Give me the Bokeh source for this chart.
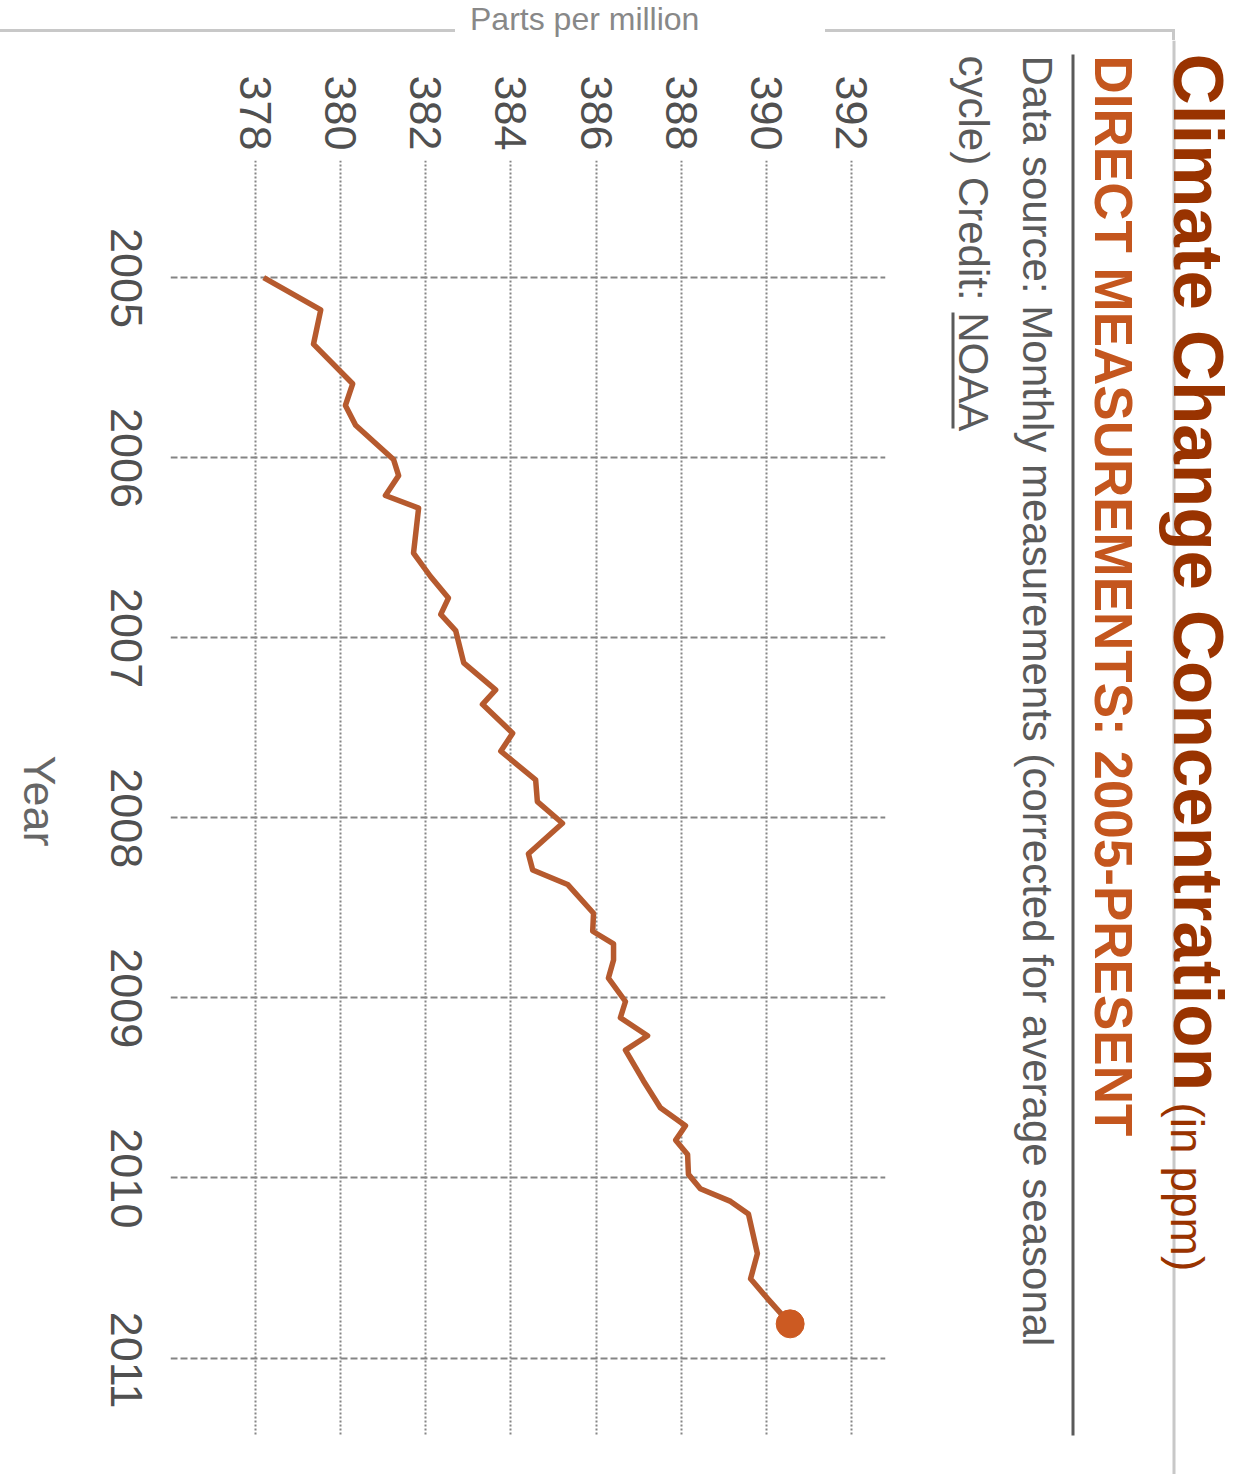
import math
from bokeh.plotting import figure
from bokeh.layouts import row, column
from bokeh.models import Range1d, FixedTicker, CustomJSTickFormatter, Div
from bokeh.core.properties import value
from bokeh.embed import file_html
from bokeh.resources import INLINE

# Monthly CO2 concentration (ppm, seasonally corrected), 2005 onwards
years = [2005.00, 2005.18, 2005.37, 2005.59, 2005.71, 2005.82, 2006.01, 2006.10,
         2006.21, 2006.28, 2006.53, 2006.66, 2006.78, 2006.87, 2006.96, 2007.14,
         2007.29, 2007.37, 2007.53, 2007.63, 2007.79, 2007.91, 2008.03, 2008.20,
         2008.29, 2008.37, 2008.53, 2008.63, 2008.70, 2008.79, 2008.89, 2009.02,
         2009.11, 2009.21, 2009.29, 2009.46, 2009.61, 2009.71, 2009.79, 2009.87,
         2009.98, 2010.06, 2010.13, 2010.20, 2010.42, 2010.56, 2010.67, 2010.81]
ppm = [378.19, 379.53, 379.36, 380.28, 380.11, 380.35, 381.24, 381.36,
       381.05, 381.83, 381.71, 382.11, 382.53, 382.35, 382.70, 382.89,
       383.64, 383.33, 384.04, 383.76, 384.58, 384.62, 385.21, 384.41,
       384.51, 385.33, 385.94, 385.92, 386.41, 386.41, 386.29, 386.69,
       386.57, 387.21, 386.69, 387.11, 387.51, 388.10, 387.87, 388.15,
       388.17, 388.45, 389.16, 389.58, 389.79, 389.63, 390.03, 390.56]

ppm_ticks = [378, 380, 382, 384, 386, 388, 390, 392]
year_ticks = [2005, 2006, 2007, 2008, 2009, 2010, 2011]

title = "Climate Change Concentration"
title_unit = "(in ppm)"
subtitle = "DIRECT MEASUREMENTS: 2005-PRESENT"
source_1 = "Data source: Monthly measurements (corrected for average seasonal"
source_2 = "cycle) Credit: NOAA"
ppm_label = "Parts per million"
year_label = "Year"

FONT = "Liberation Sans"
DOWN = -math.pi / 2          # text reading top to bottom
GRID = "#858585"
RULE_LIGHT = "#c8c8c8"
TEXT_GREY = "#5a5a5a"

W, H = 1242, 1474
CAPTION_W = 90               # column holding the "Year" caption
SPLIT = 900                  # chart column | header column
STRIP = 40                   # height of the caption strip on top
FL, FR, FT, FB = 170, 885, 160, 1435
YEAR_LABEL_SHIFT = 0.28      # centres the rotated year labels on their grid lines


def canvas_fig(x0, x1, y0, y1):
    f = figure(width=x1 - x0, height=y1 - y0, output_backend="svg", toolbar_location=None,
               x_range=Range1d(x0, x1), y_range=Range1d(y1, y0),
               x_axis_type=None, y_axis_type=None,
               min_border=0, min_border_left=0, min_border_right=0,
               min_border_top=0, min_border_bottom=0)
    f.outline_line_color = None
    f.grid.visible = False
    f.background_fill_color = "white"
    f.border_fill_color = "white"
    return f


def text(f, s, x, y, size, color, bold=False):
    # x is the baseline of the rotated line; rotated glyph text sits about
    # a third of an em left of its anchor, so the anchor is moved by that much
    f.text(x=[x + 0.35 * size], y=[y], text=[s], angle=DOWN, text_font=value(FONT),
           text_font_size=f"{size}px", text_color=color,
           text_font_style="bold" if bold else "normal",
           text_align="left", text_baseline="alphabetic")


def bar(f, x0, x1, y0, y1, color):
    f.quad(left=[x0], right=[x1], top=[y0], bottom=[y1], fill_color=color, line_color=None)


# --- caption strip on top, between two light rules
strip = Div(width=W, height=STRIP, margin=(0, 0, 0, 0), text=f"""
<div style="position:relative;width:{W}px;height:{STRIP}px;background:white;">
  <div style="position:absolute;left:0;top:29px;width:455px;height:3px;background:{RULE_LIGHT};"></div>
  <div style="position:absolute;left:825px;top:29px;width:350px;height:3px;background:{RULE_LIGHT};"></div>
  <div style="position:absolute;left:1172px;top:29px;width:3px;height:11px;background:{RULE_LIGHT};"></div>
  <div style="position:absolute;left:470px;top:1px;font-family:'{FONT}';font-size:32px;
              line-height:36px;color:#888888;white-space:nowrap;">{ppm_label}</div>
</div>""")

# --- "Year" caption, reading top to bottom
caption = canvas_fig(0, CAPTION_W, STRIP, H)
text(caption, year_label, 23, 755, 45, "#666666")

# --- the chart itself
chart = figure(width=SPLIT - CAPTION_W, height=H - STRIP, output_backend="svg",
               toolbar_location=None,
               x_range=Range1d(376.0, 392.8), y_range=Range1d(2011.43, 2004.35),
               x_axis_location="above",
               min_border_left=FL - CAPTION_W, min_border_right=SPLIT - FR,
               min_border_top=FT - STRIP, min_border_bottom=H - FB)
chart.outline_line_color = None
chart.background_fill_color = "white"
chart.border_fill_color = "white"

chart.xaxis.ticker = FixedTicker(ticks=ppm_ticks)
chart.yaxis.ticker = FixedTicker(ticks=[t + YEAR_LABEL_SHIFT for t in year_ticks])
chart.yaxis.formatter = CustomJSTickFormatter(code="return Math.floor(tick).toFixed(0)")
chart.xgrid.ticker = FixedTicker(ticks=ppm_ticks)
chart.ygrid.ticker = FixedTicker(ticks=year_ticks)

for ax in (chart.xaxis[0], chart.yaxis[0]):
    ax.axis_line_color = None
    ax.major_tick_line_color = None
    ax.minor_tick_line_color = None
    ax.major_label_orientation = DOWN
    ax.major_label_text_font = FONT
    ax.major_label_text_font_size = "45px"
    ax.major_label_text_color = "#505050"
chart.xaxis.major_label_standoff = 4
chart.yaxis[0].major_label_standoff = 38

chart.xgrid.grid_line_color = GRID
chart.xgrid.grid_line_width = 2
chart.xgrid.grid_line_dash = "2 2"
chart.ygrid.grid_line_color = GRID
chart.ygrid.grid_line_width = 2
chart.ygrid.grid_line_dash = "7 3"

chart.line(ppm, years, line_width=5.5, color="#b65a2e", line_join="round")
chart.scatter([ppm[-1]], [years[-1]], size=28, color="#cc5a22")

# --- header column: titles, source note and frame rules
head = canvas_fig(SPLIT, W, STRIP, H)
bar(head, 1172, 1175, STRIP, H, RULE_LIGHT)
bar(head, 1071, 1074, 54, 1435, TEXT_GREY)
text(head, title, 1173, 53, 71, "#993300", bold=True)
text(head, title_unit, 1170, 1102, 46, "#993300")
text(head, subtitle, 1094, 55, 53, "#c4561e", bold=True)
text(head, source_1, 1022, 55, 42, TEXT_GREY)
text(head, source_2, 958, 55, 42, TEXT_GREY)
bar(head, 951, 954, 312, 428, TEXT_GREY)

# each figure sits in its own column so that every one keeps its own frame
layout = column(strip, row(column(caption), column(chart), column(head)))
open("out.html", "w").write(file_html(layout, INLINE))
